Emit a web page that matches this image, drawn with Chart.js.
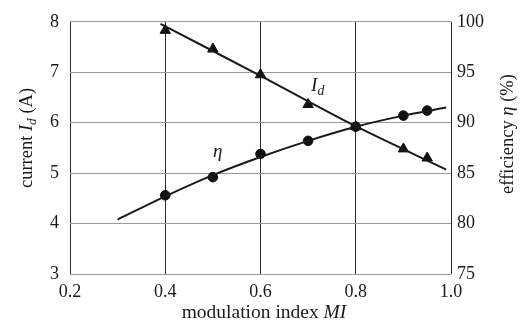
<!DOCTYPE html>
<html>
<head>
<meta charset="utf-8">
<script src="https://cdn.jsdelivr.net/npm/chart.js@4"></script>
<style>
  html, body { margin: 0; padding: 0; background: #fff; }
  #wrap { width: 523px; height: 325px; }
</style>
</head>
<body>
<div id="wrap"><canvas id="chart" width="523" height="325"></canvas></div>
<script>
// measured points
var miPoints = [0.4, 0.5, 0.6, 0.7, 0.8, 0.9, 0.95];
var currentPoints = [7.83, 7.46, 6.95, 6.36, 5.92, 5.48, 5.30];
var effPoints = [82.8, 84.6, 86.9, 88.2, 89.6, 90.7, 91.2];

// fitted curves
var currentFitX = [0.39, 0.6, 0.8, 0.99];
var currentFitY = [7.96, 6.93, 5.93, 5.07];
var effFitX = [0.3, 0.4, 0.5, 0.6, 0.7, 0.8, 0.9, 0.99];
var effFitY = [80.4, 82.7, 84.8, 86.6, 88.2, 89.6, 90.7, 91.5];

var xTicks = [0.2, 0.4, 0.6, 0.8, 1.0];

var serif = "'Liberation Serif', 'Times New Roman', serif";

function pairs(xs, ys) {
    return xs.map(function (x, i) { return { x: x, y: ys[i] }; });
};

// draw a run of text pieces: [text, italic, subscript]
function drawPieces(ctx, pieces, cx, cy, angle, size) {
    ctx.save();
    ctx.translate(cx, cy);
    ctx.rotate(angle);
    ctx.textBaseline = "middle";
    ctx.textAlign = "left";
    ctx.fillStyle = "#1a1a1a";
    var total = 0;
    pieces.forEach(function (p) {
        ctx.font = (p[1] ? "italic " : "") + (p[2] ? size * 0.72 : size) + "px " + serif;
        p.w = ctx.measureText(p[0]).width;
        total += p.w;
    });
    var x = -total / 2;
    pieces.forEach(function (p) {
        ctx.font = (p[1] ? "italic " : "") + (p[2] ? size * 0.72 : size) + "px " + serif;
        ctx.fillText(p[0], x, p[2] ? size * 0.28 : 0);
        x += p.w;
    });
    ctx.restore();
};

var labelsPlugin = {
    id: "labels",
    afterDraw: function (chart) {
        var ctx = chart.ctx;
        var xs = chart.scales.x, ys = chart.scales.y, ys2 = chart.scales.y2;
        drawPieces(ctx, [["current ", false], ["I", true], ["d", true, true], [" (A)", false]], 27, 138, -Math.PI / 2, 18.5);
        drawPieces(ctx, [["efficiency ", false], ["\u03b7", true], [" (%)", false]], 508, 134, -Math.PI / 2, 18.5);
        drawPieces(ctx, [["modulation index ", false], ["MI", true]], 264, 312.5, 0, 19.5);
        drawPieces(ctx, [["I", true], ["d", true, true]], xs.getPixelForValue(0.72), ys.getPixelForValue(6.72), 0, 19);
        drawPieces(ctx, [["\u03b7", true]], xs.getPixelForValue(0.51), ys2.getPixelForValue(87.1), 0, 19);
    }
};

var ctx = document.getElementById("chart").getContext("2d");

new Chart(ctx, {
    type: "line",
    data: {
        datasets: [
            {
                data: pairs(currentFitX, currentFitY),
                yAxisID: "y",
                borderColor: "#1a1a1a",
                borderWidth: 2,
                pointRadius: 0,
                tension: 0.3
            },
            {
                data: pairs(miPoints, currentPoints),
                yAxisID: "y",
                showLine: false,
                pointStyle: "triangle",
                pointRadius: 6,
                backgroundColor: "#111",
                borderColor: "#111",
                borderWidth: 1
            },
            {
                data: pairs(effFitX, effFitY),
                yAxisID: "y2",
                borderColor: "#1a1a1a",
                borderWidth: 2,
                pointRadius: 0,
                cubicInterpolationMode: "monotone"
            },
            {
                data: pairs(miPoints, effPoints),
                yAxisID: "y2",
                showLine: false,
                pointStyle: "circle",
                pointRadius: 4.8,
                backgroundColor: "#111",
                borderColor: "#111",
                borderWidth: 1
            }
        ]
    },
    options: {
        responsive: false,
        animation: false,
        layout: { padding: { top: 19, left: 0, right: 0, bottom: 0 } },
        plugins: {
            legend: { display: false },
            tooltip: { enabled: false }
        },
        scales: {
            x: {
                type: "linear",
                min: 0.2,
                max: 1.0,
                afterBuildTicks: function (scale) {
                    scale.ticks = xTicks.map(function (v) { return { value: v }; });
                },
                afterFit: function (scale) { scale.height = 51; },
                grid: { color: "#2a2a2a", lineWidth: 1, drawTicks: false },
                border: { display: false },
                ticks: {
                    padding: 7,
                    color: "#1a1a1a",
                    font: { family: serif, size: 18 },
                    callback: function (v) { return v.toFixed(1); }
                }
            },
            y: {
                position: "left",
                min: 3,
                max: 8,
                afterFit: function (scale) { scale.width = 70; },
                grid: { color: "#9a9a9a", lineWidth: 1, drawTicks: false },
                border: { display: false },
                ticks: {
                    stepSize: 1,
                    padding: 11,
                    color: "#1a1a1a",
                    font: { family: serif, size: 18 }
                }
            },
            y2: {
                position: "right",
                min: 75,
                max: 100,
                afterFit: function (scale) { scale.width = 72; },
                grid: { display: false, drawTicks: false },
                border: { display: false },
                ticks: {
                    stepSize: 5,
                    padding: 6,
                    color: "#1a1a1a",
                    font: { family: serif, size: 18 }
                }
            }
        }
    },
    plugins: [labelsPlugin]
});
</script>
</body>
</html>
